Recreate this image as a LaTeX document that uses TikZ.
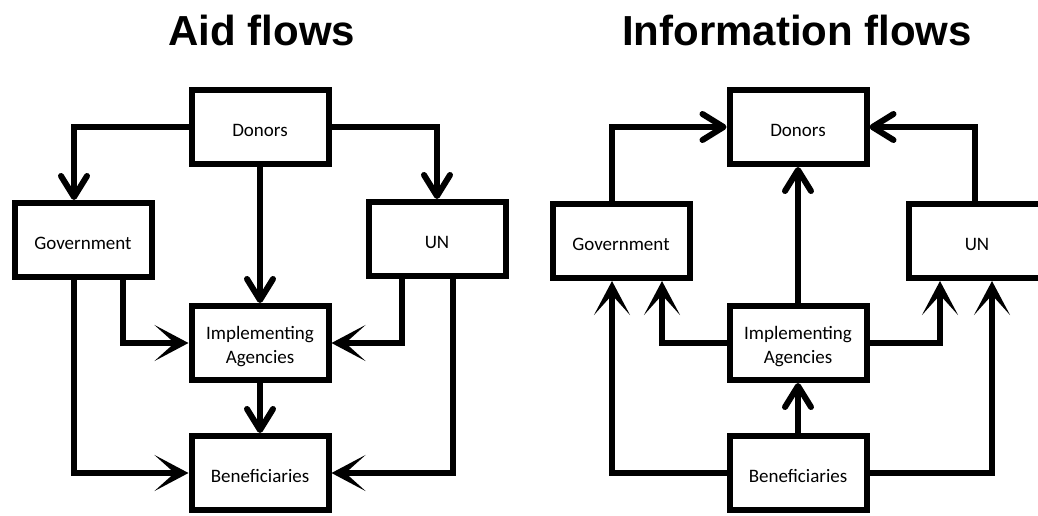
\documentclass[tikz,border=0pt]{standalone}
\usepackage{fontspec}
\setmainfont{Carlito}
\newfontfamily\titlefont{Liberation Sans}
\usetikzlibrary{arrows.meta}
\usetikzlibrary{positioning}

\begin{document}
\begin{tikzpicture}[
x=1pt, y=-1pt,
box/.style={rectangle, draw=black, line width=6pt, minimum width=137pt, minimum height=74pt, align=center, fill=white, text height=20pt, font=\fontsize{19}{24}\selectfont},
flow/.style={line width=6pt, -{Straight Barb[length=21pt, width=26pt, round]}},
pointy/.style={line width=6pt, -{Stealth[length=34pt, width=36pt, inset=20pt]}},
title/.style={anchor=base, font=\titlefont\bfseries\fontsize{42}{50}\selectfont},
]
\useasboundingbox (0,0) rectangle (1038,515);

\node[title] (aidT) at (262,45) {Aid flows};
\node[title] (infoT) at (797,45) {Information flows};

% aid flows
\node[box] (donorsL) at (260,127) {Donors};
\node[box] (govL) at (83,240) {Government};
\node[box] (unL) at (437,239) {UN};
\node[box, text height=44pt] (iaL) [below=136pt of donorsL] {Implementing\\Agencies};
\node[box] (benL) [below=50pt of iaL] {Beneficiaries};

\draw[flow] (donorsL.west) -| ([xshift=-9pt]govL.north);
\draw[flow] (donorsL.east) -| (unL.north);
\draw[flow] (donorsL) -- (iaL);
\draw[flow] (iaL) -- (benL);
\draw[pointy] ([xshift=40pt]govL.south) |- (iaL.west);
\draw[pointy] ([xshift=-9pt]govL.south) |- (benL.west);
\draw[pointy] ([xshift=-35pt]unL.south) |- (iaL.east);
\draw[pointy] ([xshift=16pt]unL.south) |- (benL.east);

% information flows
\node[box] (donorsR) at (798,127) {Donors};
\node[box] (govR) at (621,241) {Government};
\node[box] (unR) at (977,241) {UN};
\node[box, text height=44pt] (iaR) [below=136pt of donorsR] {Implementing\\Agencies};
\node[box] (benR) [below=50pt of iaR] {Beneficiaries};

\draw[flow] ([xshift=-9pt]govR.north) |- (donorsR.west);
\draw[flow] ([xshift=-2pt]unR.north) |- (donorsR.east);
\draw[flow] (iaR) -- (donorsR);
\draw[flow] (benR) -- (iaR);
\draw[pointy] (iaR.west) -| ([xshift=41pt]govR.south);
\draw[pointy] (benR.west) -| ([xshift=-9pt]govR.south);
\draw[pointy] (iaR.east) -| ([xshift=-37pt]unR.south);
\draw[pointy] (benR.east) -| ([xshift=15pt]unR.south);
\end{tikzpicture}
\end{document}
